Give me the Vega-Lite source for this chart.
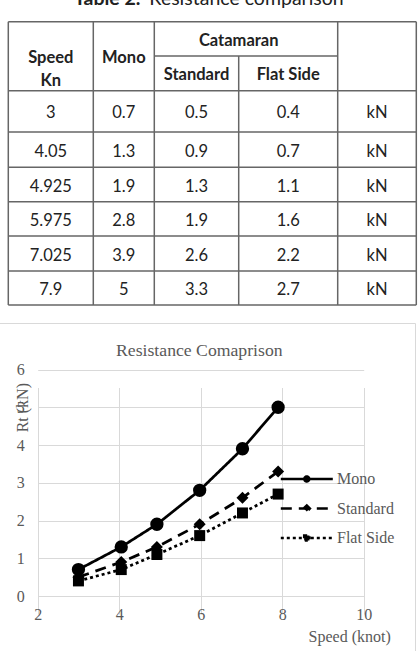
{
  "$schema": "https://vega.github.io/schema/vega-lite/v6.json",
  "background": "white",
  "padding": {"left": -2, "top": -30, "right": 0, "bottom": -9},
  "autosize": {"type": "pad"},
  "spacing": 0,
  "bounds": "flush",
  "title": {"text": "Table 2.", "anchor": "start", "frame": "group", "font": "Lato", "fontSize": 19.5, "fontWeight": "bold", "color": "#222222", "baseline": "alphabetic", "offset": -54, "dx": 75},
  "config": {
    "view": {"stroke": null},
    "axis": {"labelFont": "Liberation Serif", "labelFontSize": 16, "labelColor": "#595959", "titleFont": "Liberation Serif", "titleFontSize": 16, "titleFontWeight": "normal", "titleColor": "#595959", "gridColor": "#d9d9d9", "gridWidth": 1, "domain": false, "ticks": false, "tickSize": 0, "labelFlush": false, "labelOverlap": false}
  },
  "datasets": {
    "resistance": [
      {"speed": 3, "series": "Mono", "rt": 0.7},
      {"speed": 4.05, "series": "Mono", "rt": 1.3},
      {"speed": 4.925, "series": "Mono", "rt": 1.9},
      {"speed": 5.975, "series": "Mono", "rt": 2.8},
      {"speed": 7.025, "series": "Mono", "rt": 3.9},
      {"speed": 7.9, "series": "Mono", "rt": 5},
      {"speed": 3, "series": "Standard", "rt": 0.5},
      {"speed": 4.05, "series": "Standard", "rt": 0.9},
      {"speed": 4.925, "series": "Standard", "rt": 1.3},
      {"speed": 5.975, "series": "Standard", "rt": 1.9},
      {"speed": 7.025, "series": "Standard", "rt": 2.6},
      {"speed": 7.9, "series": "Standard", "rt": 3.3},
      {"speed": 3, "series": "Flat Side", "rt": 0.4},
      {"speed": 4.05, "series": "Flat Side", "rt": 0.7},
      {"speed": 4.925, "series": "Flat Side", "rt": 1.1},
      {"speed": 5.975, "series": "Flat Side", "rt": 1.6},
      {"speed": 7.025, "series": "Flat Side", "rt": 2.2},
      {"speed": 7.9, "series": "Flat Side", "rt": 2.7}
    ],
    "tableRules": [
      {"x": 0, "x2": 5, "y": 0, "y2": 0},
      {"x": 2, "x2": 4, "y": 1, "y2": 1},
      {"x": 0, "x2": 5, "y": 2, "y2": 2},
      {"x": 0, "x2": 5, "y": 3, "y2": 3},
      {"x": 0, "x2": 5, "y": 4, "y2": 4},
      {"x": 0, "x2": 5, "y": 5, "y2": 5},
      {"x": 0, "x2": 5, "y": 6, "y2": 6},
      {"x": 0, "x2": 5, "y": 7, "y2": 7},
      {"x": 0, "x2": 5, "y": 8, "y2": 8},
      {"x": 0, "x2": 0, "y": 0, "y2": 8},
      {"x": 1, "x2": 1, "y": 0, "y2": 8},
      {"x": 2, "x2": 2, "y": 0, "y2": 8},
      {"x": 3, "x2": 3, "y": 1, "y2": 8},
      {"x": 4, "x2": 4, "y": 0, "y2": 8},
      {"x": 5, "x2": 5, "y": 0, "y2": 8}
    ],
    "tableHead": [
      {"col": 0.5, "row": 1, "label": "Speed\nKn"},
      {"col": 1.5, "row": 1, "label": "Mono"},
      {"col": 3, "row": 0.5, "label": "Catamaran"},
      {"col": 2.5, "row": 1.5, "label": "Standard"},
      {"col": 3.5, "row": 1.5, "label": "Flat Side"}
    ],
    "tableBody": [
      {"col": 0.5, "row": 2.5, "label": "3"},
      {"col": 1.5, "row": 2.5, "label": "0.7"},
      {"col": 2.5, "row": 2.5, "label": "0.5"},
      {"col": 3.5, "row": 2.5, "label": "0.4"},
      {"col": 4.5, "row": 2.5, "label": "kN"},
      {"col": 0.5, "row": 3.5, "label": "4.05"},
      {"col": 1.5, "row": 3.5, "label": "1.3"},
      {"col": 2.5, "row": 3.5, "label": "0.9"},
      {"col": 3.5, "row": 3.5, "label": "0.7"},
      {"col": 4.5, "row": 3.5, "label": "kN"},
      {"col": 0.5, "row": 4.5, "label": "4.925"},
      {"col": 1.5, "row": 4.5, "label": "1.9"},
      {"col": 2.5, "row": 4.5, "label": "1.3"},
      {"col": 3.5, "row": 4.5, "label": "1.1"},
      {"col": 4.5, "row": 4.5, "label": "kN"},
      {"col": 0.5, "row": 5.5, "label": "5.975"},
      {"col": 1.5, "row": 5.5, "label": "2.8"},
      {"col": 2.5, "row": 5.5, "label": "1.9"},
      {"col": 3.5, "row": 5.5, "label": "1.6"},
      {"col": 4.5, "row": 5.5, "label": "kN"},
      {"col": 0.5, "row": 6.5, "label": "7.025"},
      {"col": 1.5, "row": 6.5, "label": "3.9"},
      {"col": 2.5, "row": 6.5, "label": "2.6"},
      {"col": 3.5, "row": 6.5, "label": "2.2"},
      {"col": 4.5, "row": 6.5, "label": "kN"},
      {"col": 0.5, "row": 7.5, "label": "7.9"},
      {"col": 1.5, "row": 7.5, "label": "5"},
      {"col": 2.5, "row": 7.5, "label": "3.3"},
      {"col": 3.5, "row": 7.5, "label": "2.7"},
      {"col": 4.5, "row": 7.5, "label": "kN"}
    ]
  },
  "vconcat": [
    {
      "width": 418,
      "height": 352.5,
      "view": {"stroke": null},
      "title": {"text": "Resistance comparison", "anchor": "start", "frame": "group", "font": "Lato", "fontSize": 19.5, "fontWeight": "normal", "color": "#222222", "baseline": "alphabetic", "offset": -54, "dx": 150.3},
      "layer": [
        {
          "data": {"name": "tableRules"},
          "mark": {"type": "rule", "color": "#666666", "strokeWidth": 1.5},
          "encoding": {
            "x": {"field": "x", "type": "quantitative", "axis": null, "scale": {"domain": [0, 1, 2, 3, 4, 5], "range": [9.3, 94.3, 155.3, 239.7, 338.7, 417.3], "zero": false, "nice": false}},
            "x2": {"field": "x2"},
            "y": {"field": "y", "type": "quantitative", "axis": null, "scale": {"domain": [0, 1, 2, 3, 4, 5, 6, 7, 8], "range": [51.7, 86, 120.7, 162, 197.3, 231.7, 266, 301, 335], "zero": false, "nice": false}},
            "y2": {"field": "y2"}
          }
        },
        {
          "data": {"name": "tableHead"},
          "mark": {"type": "text", "font": "Lato", "fontSize": 16.5, "fontWeight": "bold", "color": "#222222", "align": "center", "baseline": "middle", "lineBreak": "\n", "lineHeight": 23.3, "dy": 2},
          "encoding": {
            "x": {"field": "col", "type": "quantitative", "axis": null, "scale": {"domain": [0, 1, 2, 3, 4, 5], "range": [9.3, 94.3, 155.3, 239.7, 338.7, 417.3], "zero": false, "nice": false}},
            "y": {"field": "row", "type": "quantitative", "axis": null, "scale": {"domain": [0, 1, 2, 3, 4, 5, 6, 7, 8], "range": [51.7, 86, 120.7, 162, 197.3, 231.7, 266, 301, 335], "zero": false, "nice": false}},
            "text": {"field": "label", "type": "nominal"}
          }
        },
        {
          "data": {"name": "tableBody"},
          "mark": {"type": "text", "font": "Lato", "fontSize": 16.5, "fontWeight": "normal", "color": "#222222", "align": "center", "baseline": "middle", "dy": 2},
          "encoding": {
            "x": {"field": "col", "type": "quantitative", "axis": null, "scale": {"domain": [0, 1, 2, 3, 4, 5], "range": [9.3, 94.3, 155.3, 239.7, 338.7, 417.3], "zero": false, "nice": false}},
            "y": {"field": "row", "type": "quantitative", "axis": null, "scale": {"domain": [0, 1, 2, 3, 4, 5, 6, 7, 8], "range": [51.7, 86, 120.7, 162, 197.3, 231.7, 266, 301, 335], "zero": false, "nice": false}},
            "text": {"field": "label", "type": "nominal"}
          }
        }
      ]
    },
    {
      "width": 416,
      "height": 337.5,
      "view": {"stroke": "#d9d9d9", "strokeWidth": 1},
      "title": {"text": "Resistance Comaprison", "anchor": "middle", "frame": "group", "font": "Liberation Serif", "fontSize": 17.7, "fontWeight": "normal", "color": "#595959", "baseline": "alphabetic", "offset": -50.7, "dx": -7.7},
      "data": {"name": "resistance"},
      "encoding": {
        "x": {
          "field": "speed", "type": "quantitative",
          "scale": {"domain": [2, 10], "range": [38.7, 364.7], "zero": false, "nice": false},
          "axis": {"values": [2, 4, 6, 8, 10], "grid": true, "offset": -64.5, "labelPadding": 10.5, "title": "Speed (knot)", "titleX": 391.3, "titleY": 45.5, "titleAlign": "right", "titleAnchor": null, "titleBaseline": "alphabetic"}
        },
        "y": {
          "field": "rt", "type": "quantitative",
          "scale": {"domain": [0, 6], "range": [273, 46.5], "zero": false, "nice": false},
          "axis": {"values": [0, 1, 2, 3, 4, 5, 6], "grid": true, "offset": -38.7, "labelPadding": 13.4, "title": "Rt (kN)", "titleX": -10.7, "titleY": 84.2, "titleAngle": -90, "titleAlign": "center", "titleBaseline": "alphabetic"}
        }
      },
      "layer": [
        {
          "transform": [{"filter": "false"}],
          "mark": {"type": "point", "filled": false, "fill": "black", "stroke": "black", "strokeWidth": 2.5, "opacity": 1},
          "encoding": {
            "shape": {
              "field": "series", "type": "nominal",
              "scale": {"domain": ["Mono", "Standard", "Flat Side"], "range": [
                "M-2.6,0H2.6M-0.25,0A0.25,0.25,0,1,0,0.25,0A0.25,0.25,0,1,0,-0.25,0Z",
                "M-2.6,0H2.6M-0.31,0L0,-0.31L0.31,0L0,0.31Z",
                "M-2.6,0H2.6M-0.26,-0.26H0.26V0.26H-0.26Z"
              ]},
              "legend": {
                "orient": "none", "legendX": 296.3, "legendY": 497.5, "title": null, "padding": 0,
                "symbolSize": 400, "symbolStrokeWidth": 2.5, "symbolOpacity": 1,
                "labelFont": "Liberation Serif", "labelFontSize": 16, "labelColor": "#595959", "labelOffset": 18.7, "rowPadding": 9.5
              }
            }
          }
        },
        {
          "mark": {"type": "line", "color": "black", "strokeWidth": 2.75},
          "encoding": {
            "strokeDash": {
              "field": "series", "type": "nominal",
              "scale": {"domain": ["Mono", "Standard", "Flat Side"], "range": [[1, 0], [11, 7], [3, 3]]},
              "legend": {
                "orient": "none", "legendX": 296.3, "legendY": 497.5, "title": null, "padding": 0,
                "symbolSize": 400, "symbolStrokeWidth": 2.5, "symbolOpacity": 1,
                "labelFont": "Liberation Serif", "labelFontSize": 16, "labelColor": "#595959", "labelOffset": 18.7, "rowPadding": 9.5
              }
            }
          }
        },
        {
          "transform": [{"filter": {"field": "series", "equal": "Mono"}}],
          "mark": {"type": "point", "shape": "circle", "size": 177, "filled": true, "color": "black", "opacity": 1}
        },
        {
          "transform": [{"filter": {"field": "series", "equal": "Standard"}}],
          "mark": {"type": "point", "shape": "diamond", "size": 144, "filled": true, "color": "black", "opacity": 1}
        },
        {
          "transform": [{"filter": {"field": "series", "equal": "Flat Side"}}],
          "mark": {"type": "point", "shape": "square", "size": 121, "filled": true, "color": "black", "opacity": 1}
        }
      ]
    }
  ]
}
